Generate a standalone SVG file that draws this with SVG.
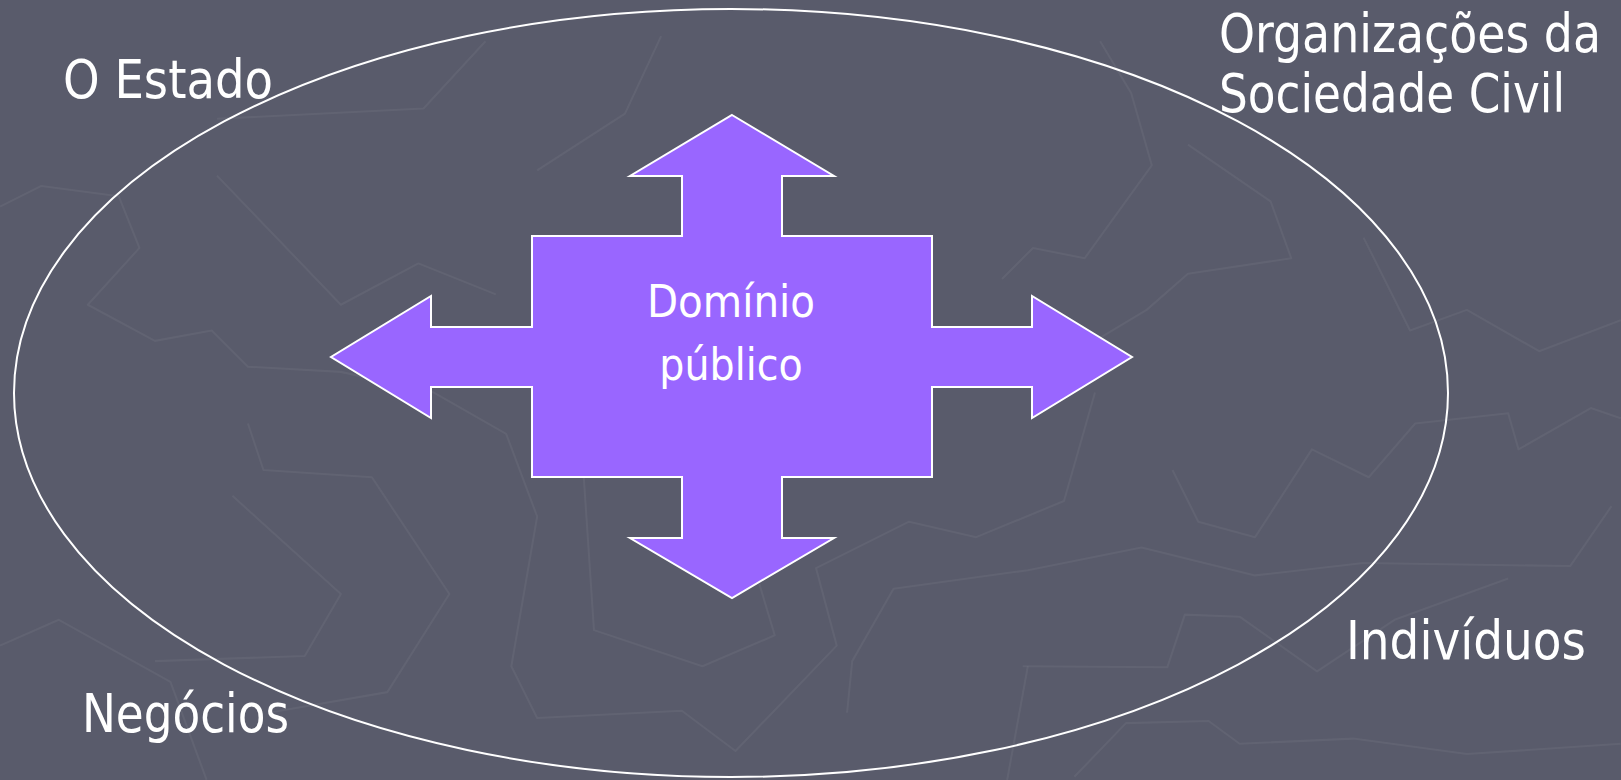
<svg xmlns="http://www.w3.org/2000/svg" width="1621" height="780" viewBox="0 0 1621 780">
  <style>
    .bg { fill: #595b6b; }
    .deco { fill: none; stroke: #ffffff; stroke-opacity: 0.05; stroke-width: 2; stroke-linejoin: round; }
    .frame { fill: none; stroke: #ffffff; stroke-width: 2; }
    .cross { fill: #9966ff; stroke: #ffffff; stroke-width: 2; stroke-linejoin: miter; }
    .lbl { font-family: "DejaVu Sans Condensed", "DejaVu Sans", sans-serif; fill: #ffffff; }
    .big { font-size: 53px; }
    .mid { font-size: 44px; }
  </style>
  <rect class="bg" x="0" y="0" width="1621" height="780"/>
  <g id="background-pattern" transform="scale(1.033)">
    <polyline class="deco" points="0,200 40,180 115,190 135,240 85,295 150,330 205,320 240,355 330,360 420,380 490,420 520,500 495,645 520,695 660,688 712,727 810,625 790,550 880,505 945,520 1030,485 1060,380"/>
    <polyline class="deco" points="210,115 410,105 470,40"/>
    <polyline class="deco" points="210,170 330,295 405,255 480,285"/>
    <polyline class="deco" points="240,410 255,455 360,462 435,575 375,670 260,690"/>
    <polyline class="deco" points="225,480 330,575 295,635 150,640"/>
    <polyline class="deco" points="0,625 57,600 165,660 200,755"/>
    <polyline class="deco" points="820,690 825,640 865,570 995,552 1105,530 1215,557 1320,545 1520,548 1560,490"/>
    <polyline class="deco" points="1135,455 1160,505 1215,520 1270,435 1325,462 1370,410 1460,400 1470,435 1540,395 1569,405"/>
    <polyline class="deco" points="990,645 1130,646 1147,595 1200,597 1275,650 1350,600 1460,560"/>
    <polyline class="deco" points="1150,140 1230,195 1250,250 1150,265 1110,300 1060,330"/>
    <polyline class="deco" points="1320,230 1365,320 1420,300 1490,340 1569,310"/>
    <polyline class="deco" points="565,460 575,610 680,645 750,615 735,565"/>
    <polyline class="deco" points="970,270 1000,240 1050,250 1115,160 1095,90 1065,40"/>
    <polyline class="deco" points="520,165 605,110 640,35"/>
    <polyline class="deco" points="975,755 995,645"/>
    <polyline class="deco" points="1040,752 1090,700 1170,698 1200,720 1310,715 1420,730 1569,720"/>
  </g>
  <g id="public-sphere-ellipse">
    <ellipse class="frame" cx="731" cy="393" rx="717" ry="384"/>
  </g>
  <g id="dominio-publico">
    <polygon class="cross" points="732,115 834,176 782,176 782,236 932,236 932,327 1032,327 1032,296 1132,357 1032,418 1032,387 932,387 932,477 782,477 782,538 834,538 732,598 630,538 682,538 682,477 532,477 532,387 431,387 431,418 331,357 431,296 431,327 532,327 532,236 682,236 682,176 630,176"/>
    <text class="lbl mid" x="731" y="317" text-anchor="middle" textLength="168" lengthAdjust="spacingAndGlyphs">Domínio</text>
    <text class="lbl mid" x="731" y="380" text-anchor="middle">público</text>
  </g>
  <g id="o-estado">
    <text class="lbl big" x="63" y="98" textLength="210" lengthAdjust="spacingAndGlyphs">O Estado</text>
  </g>
  <g id="organizacoes-sociedade-civil">
    <text class="lbl big" x="1219" y="52" textLength="382" lengthAdjust="spacingAndGlyphs">Organizações da</text>
    <text class="lbl big" x="1219" y="112" textLength="346" lengthAdjust="spacingAndGlyphs">Sociedade Civil</text>
  </g>
  <g id="individuos">
    <text class="lbl big" x="1346" y="659" textLength="240" lengthAdjust="spacingAndGlyphs">Indivíduos</text>
  </g>
  <g id="negocios">
    <text class="lbl big" x="82" y="732" textLength="207" lengthAdjust="spacingAndGlyphs">Negócios</text>
  </g>
  <g id="connectors"></g>
</svg>
